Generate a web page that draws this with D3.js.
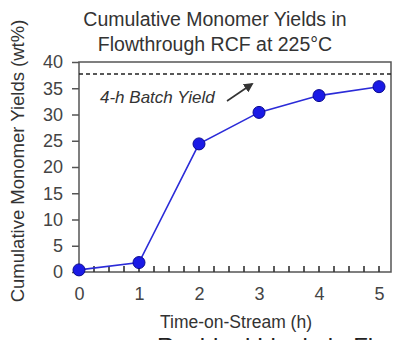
<!DOCTYPE html>
<html><head><meta charset="utf-8">
<script src="https://cdn.jsdelivr.net/npm/d3@7/dist/d3.min.js"></script>
<style>body{margin:0;background:#fff;overflow:hidden}svg{display:block}</style>
</head><body>
<script>
const titleLines = ["Cumulative Monomer Yields in", "Flowthrough RCF at 225°C"];
const timeOnStream = [0, 1, 2, 3, 4, 5];
const cumulativeYield = [0.4, 1.8, 24.4, 30.4, 33.6, 35.3];
const batchYield = [37.7];
const yTicks = [0, 5, 10, 15, 20, 25, 30, 35, 40];
const xTicks = [0, 1, 2, 3, 4, 5];
const xMinorTicks = [0.25, 0.5, 0.75, 1, 1.25, 1.5, 1.75, 2, 2.25, 2.5, 2.75, 3, 3.25, 3.5, 3.75, 4, 4.25, 4.5, 4.75, 5];

const W = 396, H = 340;
const svg = d3.select("body").append("svg").attr("width", W).attr("height", H);
const font = "Liberation Sans, Arial, Helvetica, sans-serif";

const x = d3.scaleLinear().domain([0, 5.2]).range([79, 391]);
const y = d3.scaleLinear().domain([0, 40]).range([272, 62]);

// title
svg.append("g").selectAll("text").data(titleLines).join("text")
  .attr("x", 215).attr("y", (d, i) => 26 + i * 25)
  .attr("text-anchor", "middle").attr("font-family", font).attr("font-size", 19.5)
  .attr("fill", "#333").text(d => d);

// frame
svg.append("rect").attr("x", x(0)).attr("y", y(40)).attr("width", x(5.2) - x(0)).attr("height", y(0) - y(40))
  .attr("fill", "none").attr("stroke", "#555").attr("stroke-width", 1.5);

// y axis
const yAxis = d3.axisLeft(y).tickValues(yTicks).tickSize(7).tickPadding(9);
const gy = svg.append("g").attr("transform", `translate(${x(0)},0)`).call(yAxis);
gy.select(".domain").remove();
gy.selectAll("line").attr("stroke", "#555").attr("stroke-width", 1.5);
gy.selectAll("text").attr("font-family", font).attr("font-size", 18).attr("fill", "#444");

// x axis minor inward ticks, drawn as one path
const tickPath = xMinorTicks.map(d => `M${x(d).toFixed(1)},${y(0)}V${y(0) - 6}`).join("");
svg.append("path").attr("d", tickPath).attr("fill", "none")
  .attr("stroke", "#333").attr("stroke-width", 1.6);

// x axis labels
const gx = svg.append("g").attr("transform", `translate(0,${y(0)})`)
  .call(d3.axisBottom(x).tickValues(xTicks).tickSize(0).tickPadding(15).tickFormat(d3.format("d")));
gx.select(".domain").remove();
gx.selectAll("text").attr("font-family", font).attr("font-size", 18).attr("fill", "#444");

// axis titles
svg.append("text").attr("transform", `translate(24,161) rotate(-90)`)
  .attr("text-anchor", "middle").attr("font-family", font).attr("font-size", 18.5)
  .attr("fill", "#333").text("Cumulative Monomer Yields (wt%)");
svg.append("text").attr("x", 236).attr("y", 328)
  .attr("text-anchor", "middle").attr("font-family", font).attr("font-size", 17.5)
  .attr("fill", "#333").text("Time-on-Stream (h)");

// batch dashed line
svg.append("line").attr("x1", x(0)).attr("x2", x(5.2))
  .attr("y1", y(batchYield[0])).attr("y2", y(batchYield[0]))
  .attr("stroke", "#222").attr("stroke-width", 1.5).attr("stroke-dasharray", "4,3");

svg.append("text").attr("x", 100).attr("y", 103)
  .attr("font-family", font).attr("font-size", 17).attr("font-style", "italic")
  .attr("fill", "#333").text("4-h Batch Yield");

// arrow
const defs = svg.append("defs");
defs.append("marker").attr("id", "ah").attr("viewBox", "0 0 10 10").attr("refX", 8).attr("refY", 5)
  .attr("markerWidth", 6).attr("markerHeight", 6).attr("orient", "auto")
  .append("path").attr("d", "M0,0 L10,5 L0,10 z").attr("fill", "#333");
svg.append("line").attr("x1", 227).attr("y1", 101).attr("x2", 252).attr("y2", 84)
  .attr("stroke", "#333").attr("stroke-width", 1.6).attr("marker-end", "url(#ah)");

// series line
const data = timeOnStream.map((t, i) => [t, cumulativeYield[i]]);
svg.append("path").datum(data)
  .attr("d", d3.line().x(d => x(d[0])).y(d => y(d[1])))
  .attr("fill", "none").attr("stroke", "#2b2bd8").attr("stroke-width", 1.6);
svg.append("g").selectAll("circle").data(data).join("circle")
  .attr("cx", d => x(d[0])).attr("cy", d => y(d[1])).attr("r", 6)
  .attr("fill", "#1a1ae6").attr("stroke", "#0a0a90").attr("stroke-width", 1);

// cropped caption at the bottom edge (the reference shows it cut off)
svg.append("text").attr("x", 157).attr("y", 355)
  .attr("font-family", font).attr("font-size", 24).attr("fill", "#222")
  .text("Residual Lignin in Flowthrough");
</script>
</body></html>
